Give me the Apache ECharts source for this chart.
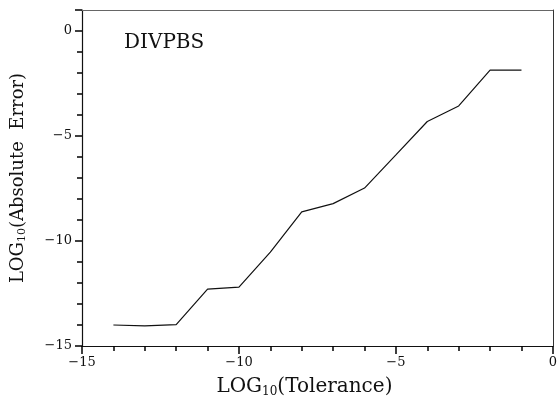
<!DOCTYPE html>
<html>
<head>
<meta charset="utf-8">
<script src="https://cdn.jsdelivr.net/npm/echarts@6/dist/echarts.min.js"></script>
<style>html,body{margin:0;padding:0;background:#fff}#c{width:560px;height:403px}</style>
</head>
<body>
<div id="c"></div>
<script>
var tolerance = [-14, -13, -12, -11, -10, -9, -8, -7, -6, -5, -4, -3, -2, -1];
var absError = [-14.0, -14.04, -13.98, -12.29, -12.2, -10.53, -8.61, -8.22, -7.48, -5.9, -4.31, -3.57, -1.86, -1.86];
var xTicks = [-15, -10, -5, 0];
var yTicks = [-15, -10, -5, 0];
var seriesLabel = 'DIVPBS';

var FONT = 'DejaVu Serif';
function fmt(v) {
  if (v > 0) return '';
  return String(v).replace('-', '\u2212');
}
function rich(size, sub, pad) {
  return {
    a: { fontFamily: FONT, fontSize: size, color: '#111' },
    s: { fontFamily: FONT, fontSize: sub, color: '#111', padding: [pad, 0, 0, 0] }
  };
}
var chart = echarts.init(document.getElementById('c'));
chart.setOption({
  animation: false,
  backgroundColor: '#fff',
  title: {
    text: seriesLabel, left: 119, top: 28,
    textStyle: { fontFamily: FONT, fontSize: 20, fontWeight: 'normal', color: '#111' }
  },
  grid: { left: 82, right: 6, top: 10, bottom: 51, containLabel: false },
  xAxis: [{
    type: 'value', min: xTicks[0], max: xTicks[xTicks.length - 1], interval: 5,
    name: '{a|LOG}{s|10}{a|(Tolerance)}', nameLocation: 'middle', nameGap: 30,
    nameTextStyle: { rich: rich(20, 12, 10), padding: [0, 26, 0, 0] },
    axisLine: { show: true, onZero: false, lineStyle: { color: '#111', width: 1.2 } },
    axisTick: { show: true, inside: false, length: 8, lineStyle: { color: '#000', width: 1.5 } },
    minorTick: { show: true, splitNumber: 5, length: 5, lineStyle: { color: '#000', width: 1.5 } },
    splitLine: { show: false },
    axisLabel: { show: true, formatter: fmt, fontFamily: FONT, fontSize: 13, color: '#111', margin: 10 }
  }, {
    type: 'value', position: 'top', min: -15, max: 0,
    axisLine: { show: true, onZero: false, lineStyle: { color: '#666', width: 1 } },
    axisTick: { show: false }, axisLabel: { show: false }, splitLine: { show: false }
  }],
  yAxis: [{
    type: 'value', min: yTicks[0], max: 1, interval: 5,
    name: '{a|LOG}{s|10}{a|(Absolute  Error)}', nameLocation: 'middle', nameGap: 54, nameRotate: 90,
    nameTextStyle: { rich: rich(18, 11, 9) },
    axisLine: { show: true, onZero: false, lineStyle: { color: '#111', width: 1.2 } },
    axisTick: { show: true, inside: false, length: 7, lineStyle: { color: '#000', width: 1.5 } },
    minorTick: { show: true, splitNumber: 5, length: 5, lineStyle: { color: '#000', width: 1.5 } },
    splitLine: { show: false },
    axisLabel: { show: true, formatter: fmt, fontFamily: FONT, fontSize: 13, color: '#111', margin: 10, showMaxLabel: false }
  }, {
    type: 'value', position: 'right', min: -15, max: 1, interval: 5,
    axisLine: { show: true, onZero: false, lineStyle: { color: '#333', width: 1 } },
    axisTick: { show: false }, axisLabel: { show: false }, splitLine: { show: false }
  }],
  series: [{
    type: 'line', xAxisIndex: 0, yAxisIndex: 0,
    data: tolerance.map(function (t, i) { return [t, absError[i]]; }),
    showSymbol: false, symbol: 'none',
    lineStyle: { color: '#111', width: 1.2 }
  }]
});
</script>
</body>
</html>
